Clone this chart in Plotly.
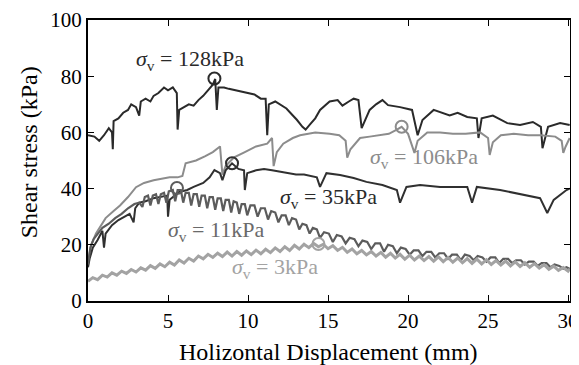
import plotly.graph_objects as go

# ---- data (x: horizontal displacement mm, y: shear stress kPa) ----
s128 = [(0, 59), (0.4, 58.5), (0.7, 57), (1.0, 59), (1.3, 61.5), (1.5, 60), (1.55, 54), (1.6, 64),
        (1.9, 65), (2.2, 67), (2.5, 68), (2.7, 70), (3.0, 69), (3.2, 66), (3.3, 71), (3.6, 72),
        (3.9, 71), (4.1, 73), (4.4, 74), (4.75, 76), (5.0, 75), (5.3, 76), (5.55, 74), (5.6, 61),
        (5.7, 68), (6.0, 69), (6.3, 70), (6.6, 69.5), (6.9, 71.5), (7.2, 73), (7.5, 75), (7.8, 77),
        (7.95, 79), (8.05, 68), (8.15, 76), (8.5, 76), (8.8, 75.5), (9.2, 75), (9.6, 74.5),
        (10.0, 74), (10.4, 73.5), (10.8, 72), (11.1, 72), (11.2, 59), (11.3, 70), (11.7, 71),
        (12.1, 69.5), (12.4, 68.5), (12.8, 66), (13.05, 64.5), (13.4, 62), (13.6, 61), (13.9, 63),
        (14.2, 65), (14.5, 68), (14.8, 69.5), (15.1, 71), (15.6, 71.5), (15.9, 69.5), (16.3, 71),
        (16.6, 72), (16.9, 71.5), (17.1, 61.5), (17.6, 68), (18.0, 70), (18.4, 71.5), (18.75, 69.7),
        (19.5, 69), (20.25, 68), (20.6, 59), (20.9, 64.4), (21.6, 68), (22.6, 66), (23.1, 67),
        (23.7, 65.5), (24.3, 65), (24.4, 58), (24.6, 65), (25.3, 66), (26.2, 63.3), (27.0, 62.6),
        (27.8, 63.7), (28.3, 62), (28.4, 54.4), (28.75, 62), (29.5, 63.3), (30.1, 62.6)]

s106 = [(0, 14), (0.2, 20), (0.5, 24), (1.1, 29.5), (1.6, 32), (2.0, 34), (2.5, 37), (3.0, 40.5),
        (3.5, 42), (4.1, 43), (4.6, 43.5), (5.1, 44), (5.6, 44), (5.9, 44.5), (6.1, 49), (6.75, 50),
        (7.3, 51.5), (7.8, 53), (8.25, 55), (8.4, 45), (8.6, 48), (9.1, 51), (9.8, 53), (10.5, 55),
        (11.2, 56), (11.5, 58), (11.6, 48), (11.8, 53), (12.2, 56), (12.8, 58), (13.25, 59),
        (14.2, 60), (15.1, 59.5), (15.7, 59), (16.1, 57), (16.2, 51), (16.4, 54), (17.0, 58),
        (17.6, 58.5), (18.2, 59), (18.8, 59.5), (19.3, 61), (19.6, 62), (20.0, 59.5), (20.4, 52.7),
        (20.6, 57), (21.2, 60), (22.0, 60), (22.8, 59.5), (23.6, 59.5), (24.5, 60), (25.0, 58),
        (25.1, 52), (25.3, 56.5), (25.8, 59), (26.6, 59.5), (27.5, 59), (28.3, 59), (29.2, 58.5),
        (29.6, 57), (29.7, 52.7), (29.85, 55), (30.1, 58)]

s35 = [(0, 12), (0.1, 15), (0.3, 19), (0.6, 21.7), (0.9, 25), (1.0, 19), (1.1, 24), (1.5, 27),
       (1.9, 28.8), (2.3, 30), (2.6, 31), (2.85, 28), (2.95, 33), (3.2, 35), (3.6, 35.5), (4.1, 36.6),
       (4.6, 37), (4.95, 37.5), (5.0, 30), (5.1, 36), (5.7, 38.8), (6.2, 39.5), (6.6, 40.6),
       (7.2, 42), (7.6, 44), (7.9, 46.6), (8.25, 45.5), (8.4, 43), (8.6, 46.5), (9.0, 49),
       (9.4, 47), (9.75, 46.5), (9.8, 39.5), (9.95, 45.5), (10.5, 46.5), (11.0, 47), (11.5, 46.5),
       (12.0, 46), (12.5, 45.5), (13.0, 45), (13.5, 45), (14.0, 44.5), (14.3, 44), (14.5, 40.6),
       (14.9, 45.5), (15.75, 44.8), (16.6, 43.8), (17.4, 42.4), (18.4, 41.3), (19.3, 39.5),
       (19.5, 35), (19.9, 40.6), (20.75, 41.3), (22.0, 40.6), (23.7, 40.6), (24.0, 35), (24.3, 40.6),
       (25.75, 39.5), (27.4, 37.7), (28.25, 36.6), (28.7, 31.3), (29.1, 36), (29.9, 39.5), (30.1, 40)]

s11 = [(0.0, 13), (0.15, 19), (0.35, 22), (0.6, 24), (0.9, 26), (1.3, 27.5), (1.7, 29.5), (2.1, 31),
       (2.5, 33), (2.9, 34.5), (3.2, 35), (3.4, 33.5), (3.55, 37), (3.75, 37.5), (3.9, 34),
       (4.05, 37.5), (4.25, 38), (4.4, 34.5), (4.55, 38), (4.75, 38.5), (4.9, 35), (5.05, 39),
       (5.3, 39.5), (5.45, 35.5), (5.6, 39.5), (5.8, 39.5), (5.95, 35), (6.1, 38.5), (6.3, 38.5),
       (6.45, 34), (6.6, 38), (6.8, 38), (6.95, 33.5), (7.1, 37.5), (7.3, 37.5), (7.45, 33),
       (7.6, 37), (7.8, 37), (7.95, 32.5), (8.1, 36.5), (8.3, 36.5), (8.45, 32), (8.6, 36),
       (8.8, 36), (8.95, 31.5), (9.1, 35.5), (9.3, 35), (9.45, 31), (9.6, 34.5), (9.8, 34.5),
       (9.95, 30.5), (10.15, 34), (10.4, 34), (10.6, 30), (10.8, 33), (11.05, 33), (11.25, 29),
       (11.45, 32), (11.7, 31.5), (11.9, 28), (12.1, 30.5), (12.35, 30.5), (12.55, 27),
       (12.75, 29.5), (13.0, 29), (13.2, 25.5), (13.4, 27.5), (13.65, 27), (13.85, 24),
       (14.05, 26), (14.3, 25.5), (14.5, 22.5), (14.75, 24.5), (15.05, 24), (15.3, 21),
       (15.55, 23.5), (15.85, 23), (16.1, 20.5), (16.35, 22.5), (16.65, 22), (16.9, 19.5),
       (17.15, 21.5), (17.45, 21), (17.7, 18.5), (17.95, 20.5), (18.25, 20.5), (18.5, 17.5),
       (18.75, 20), (19.05, 19.5), (19.3, 17), (19.55, 19), (19.85, 18.5), (20.1, 16.5),
       (20.35, 18), (20.65, 18), (20.9, 16), (21.15, 17.5), (21.45, 17.5), (21.7, 15.5),
       (21.95, 17), (22.25, 17), (22.5, 15), (22.75, 16.5), (23.05, 16.5), (23.3, 14.5),
       (23.55, 16.5), (23.85, 16), (24.1, 14.5), (24.35, 16), (24.65, 15.5), (24.9, 14),
       (25.15, 15.5), (25.45, 15.5), (25.7, 13.5), (25.95, 15), (26.25, 15), (26.5, 13.5),
       (26.75, 14.5), (27.05, 14.5), (27.3, 13), (27.55, 14), (27.85, 14), (28.1, 12.5),
       (28.35, 13.5), (28.65, 13.5), (28.9, 12), (29.15, 13), (29.45, 12.5), (29.7, 11.5),
       (29.9, 12), (30.1, 11.5)]

s3 = [(0, 7), (0.3, 8.3), (0.6, 7.6), (0.9, 9.2), (1.2, 8.5), (1.5, 10), (1.8, 9.2), (2.1, 10.6),
      (2.4, 9.8), (2.7, 11.2), (3.0, 10.3), (3.3, 11.8), (3.6, 11), (3.9, 12.6), (4.2, 11.6),
      (4.5, 13.2), (4.8, 12.2), (5.1, 13.8), (5.4, 12.8), (5.7, 14.6), (6.0, 13.5), (6.3, 15.2),
      (6.6, 14.2), (6.9, 16), (7.2, 15), (7.5, 16.6), (7.8, 15.5), (8.1, 17), (8.4, 15.8),
      (8.7, 17.4), (9.0, 16), (9.3, 17.6), (9.6, 16.3), (9.9, 17.8), (10.2, 16.5), (10.5, 18.1),
      (10.8, 16.8), (11.1, 18.4), (11.4, 17.2), (11.7, 18.9), (12.0, 17.6), (12.3, 19.3),
      (12.6, 18), (12.9, 19.8), (13.2, 18.5), (13.5, 20.2), (13.8, 19), (14.1, 20.5), (14.4, 19.3),
      (14.7, 20.2), (15.0, 18.6), (15.3, 19.7), (15.6, 18), (15.9, 19.1), (16.2, 17.3), (16.5, 18.5),
      (16.8, 16.8), (17.1, 18), (17.4, 16.4), (17.7, 17.6), (18.0, 16), (18.3, 17.3), (18.6, 15.6),
      (18.9, 17), (19.2, 15.3), (19.5, 16.6), (19.8, 14.9), (20.1, 16.3), (20.4, 14.6), (20.7, 16),
      (21.0, 14.4), (21.3, 15.8), (21.6, 14.2), (21.9, 15.7), (22.2, 14), (22.5, 15.5), (22.8, 13.8),
      (23.1, 15.3), (23.4, 13.6), (23.7, 15.1), (24.0, 13.4), (24.3, 14.9), (24.6, 13.2),
      (24.9, 14.7), (25.2, 13), (25.5, 14.4), (25.8, 12.8), (26.1, 14.2), (26.4, 12.5), (26.7, 13.9),
      (27.0, 12.3), (27.3, 13.6), (27.6, 12), (27.9, 13.3), (28.2, 11.7), (28.5, 12.9), (28.8, 11.3),
      (29.1, 12.4), (29.4, 10.9), (29.7, 11.9), (30.0, 10.6), (30.1, 11.4)]

# peak markers (x, y)
peak_x = [7.9, 19.6, 9.0, 5.56, 14.4]
peak_y = [79.2, 62.0, 49.0, 40.2, 20.3]

labels = ["128kPa", "106kPa", "35kPa", "11kPa", "3kPa"]
x_title = "Holizontal Displacement (mm)"
y_title = "Shear stress (kPa)"

series = [s128, s106, s35, s11, s3]
colors = ["#2a2a2a", "#8c8c8c", "#303030", "#5c5c5c", "#a3a3a3"]
widths = [2, 2, 2, 2.2, 3]

SERIF = "Liberation Serif"

fig = go.Figure()
for s, c, w in zip(series, colors, widths):
    xs = [p[0] for p in s]
    ys = [p[1] for p in s]
    fig.add_trace(go.Scatter(x=xs, y=ys, mode="lines", line=dict(color=c, width=w),
                             showlegend=False, hoverinfo="skip"))

for px, py, c in zip(peak_x, peak_y, colors):
    fig.add_trace(go.Scatter(x=[px], y=[py], mode="markers",
                             marker=dict(symbol="circle-open", size=12, color=c,
                                         line=dict(width=2, color=c)),
                             showlegend=False, hoverinfo="skip"))

# label positions (data coords, left edge)
lab_x = [2.9, 17.5, 11.9, 4.9, 8.9]
lab_y = [85.8, 50.9, 36.7, 24.9, 11.7]
lab_col = ["#2a2a2a", "#8c8c8c", "#2a2a2a", "#6a6a6a", "#a3a3a3"]
for lx, ly, t, c in zip(lab_x, lab_y, labels, lab_col):
    fig.add_annotation(x=lx, y=ly, xref="x", yref="y", xanchor="left", yanchor="middle",
                       text="<i>σ</i><sub>v</sub> = " + t, showarrow=False,
                       font=dict(family=SERIF, size=22, color=c))

# axis titles
fig.add_annotation(x=0.498, y=-0.18, xref="paper", yref="paper", xanchor="center",
                   yanchor="middle", text=x_title, showarrow=False,
                   font=dict(family=SERIF, size=24, color="black"))
fig.add_annotation(x=-0.122, y=0.53, xref="paper", yref="paper", xanchor="center",
                   yanchor="middle", text=y_title, showarrow=False, textangle=-90,
                   font=dict(family=SERIF, size=24, color="black"))

axis_common = dict(showline=True, linecolor="black", linewidth=2, mirror="ticks",
                   ticks="inside", ticklen=6, tickwidth=1, tickcolor="black",
                   showgrid=False, zeroline=False, automargin=False,
                   tickfont=dict(family=SERIF, size=21, color="black"))

# page body has an 8px default margin, so the figure is sized/offset to compensate
fig.update_layout(
    width=571, height=357,
    margin=dict(l=80, r=9, t=12, b=64),
    paper_bgcolor="white", plot_bgcolor="white",
    xaxis=dict(range=[0, 30.12], dtick=5, tick0=0, **axis_common),
    yaxis=dict(range=[0, 100], dtick=20, tick0=0, **axis_common),
)

fig.write_html("out.html")
